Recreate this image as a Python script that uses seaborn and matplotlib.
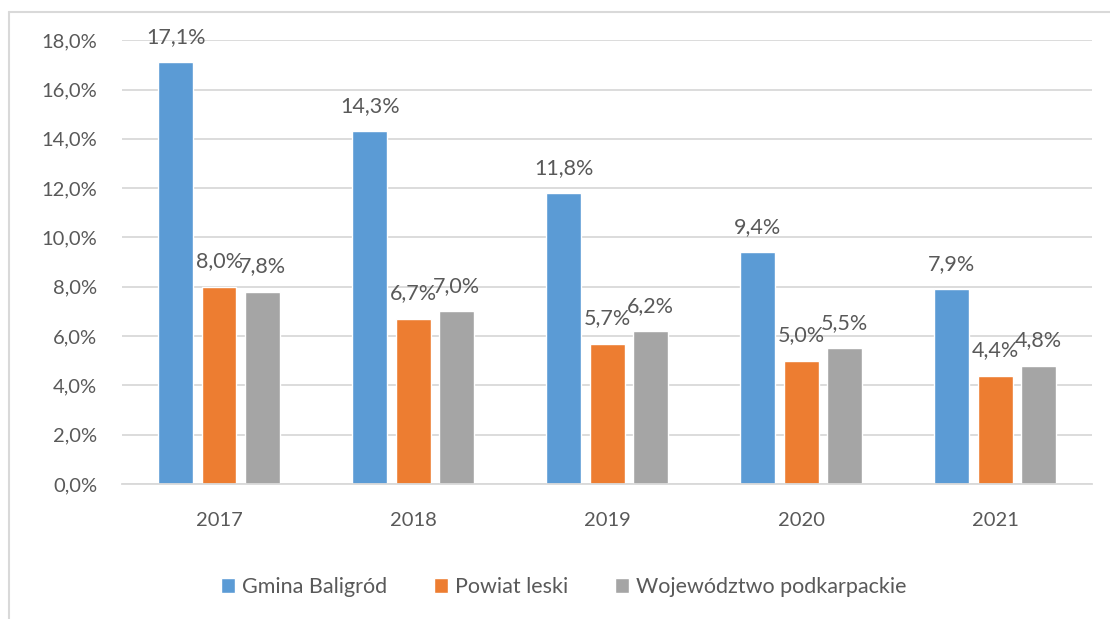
import matplotlib
matplotlib.use("Agg")
import matplotlib.pyplot as plt
import seaborn as sns
import pandas as pd
from matplotlib.lines import Line2D

years = ["2017", "2018", "2019", "2020", "2021"]
series_names = ["Gmina Baligród", "Powiat leski", "Województwo podkarpackie"]
gmina = [17.1, 14.3, 11.8, 9.4, 7.9]
powiat = [8.0, 6.7, 5.7, 5.0, 4.4]
wojew = [7.8, 7.0, 6.2, 5.5, 4.8]
yticks = [0, 2, 4, 6, 8, 10, 12, 14, 16, 18]

colors = ["#5B9BD5", "#ED7D31", "#A5A5A5"]
text_color = "#595959"
grid_color = "#D9D9D9"

rows = []
for name, vals in zip(series_names, [gmina, powiat, wojew]):
    for y, v in zip(years, vals):
        rows.append({"Rok": y, "Seria": name, "Wartość": v})
df = pd.DataFrame(rows)

sns.set_theme(style="white")
plt.rcParams["font.family"] = ["Lato", "DejaVu Sans"]

fig = plt.figure(figsize=(11.1, 6.19), dpi=100)
ax = fig.add_axes([0.110, 0.218, 0.874, 0.717])

sns.barplot(data=df, x="Rok", y="Wartość", hue="Seria", order=years,
            hue_order=series_names, palette=colors, width=0.672, gap=0.2,
            saturation=1, ax=ax, errorbar=None)

ax.set_ylim(0, 18)
ax.set_xlim(-0.5, 4.5)
ax.set_yticks(yticks)
ax.set_yticklabels([f"{t:.1f}%".replace(".", ",") for t in yticks])
ax.yaxis.grid(True, color=grid_color, linewidth=1.3)
ax.set_axisbelow(True)
for s in ["top", "right", "left"]:
    ax.spines[s].set_visible(False)
ax.spines["bottom"].set_color(grid_color)
ax.spines["bottom"].set_linewidth(1.3)
ax.tick_params(axis="y", length=0, pad=18, labelsize=14.5, labelcolor=text_color)
ax.tick_params(axis="x", length=0, pad=20, labelsize=14.5, labelcolor=text_color)
ax.set_xlabel("")
ax.set_ylabel("")

for cont in ax.containers:
    ax.bar_label(cont, labels=[f"{v:.1f}%".replace(".", ",") for v in cont.datavalues],
                 padding=11, fontsize=15.5, color=text_color)

sns.move_legend(ax, "center", bbox_to_anchor=(0.508, 1 - 587 / 619),
                bbox_transform=fig.transFigure, ncol=3, frameon=False, title=None,
                fontsize=15.5, handlelength=0.65, handleheight=0.65, handletextpad=0.3,
                columnspacing=2.2, labelcolor=text_color)

# chart area frame (top and left visible)
fig.add_artist(Line2D([9 / 1110, 1.0], [1 - 12 / 619, 1 - 12 / 619],
                      transform=fig.transFigure, color=grid_color, linewidth=1.5))
fig.add_artist(Line2D([9 / 1110, 9 / 1110], [0, 1 - 12 / 619],
                      transform=fig.transFigure, color=grid_color, linewidth=1.5))

fig.savefig("out.png", dpi=100, facecolor="white")
